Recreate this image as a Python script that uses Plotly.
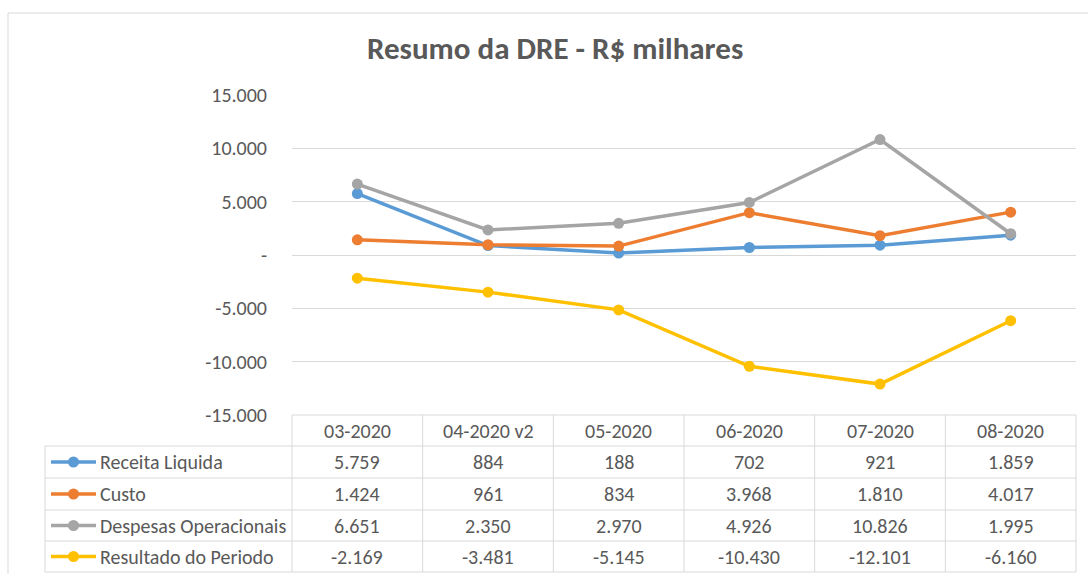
import plotly.graph_objects as go

W, H = 1088, 574

categories = ["03-2020", "04-2020 v2", "05-2020", "06-2020", "07-2020", "08-2020"]
series_names = ["Receita Liquida", "Custo", "Despesas Operacionais", "Resultado do Periodo"]
receita = [5759, 884, 188, 702, 921, 1859]
custo = [1424, 961, 834, 3968, 1810, 4017]
despesas = [6651, 2350, 2970, 4926, 10826, 1995]
resultado = [-2169, -3481, -5145, -10430, -12101, -6160]
series_values = [receita, custo, despesas, resultado]
colors = ["#5B9BD5", "#ED7D31", "#A5A5A5", "#FFC000"]
tick_vals = [15000, 10000, 5000, 0, -5000, -10000, -15000]
tick_text = ["15.000", "10.000", "5.000", "-", "-5.000", "-10.000", "-15.000"]
title_text = "Resumo da DRE - R$ milhares"

FONT = "Calibri, Carlito, Lato, sans-serif"
TXT = "#595959"
GRID = "#D9D9D9"
FS = 20

def px(x):
    return x / W

def py(y):
    return 1 - y / H

def fmt(v):
    return f"{v:,}".replace(",", ".")

# plot area in pixels
PL, PR, PT, PB = 292, 1076, 95, 415
row_lines = [415, 446, 478, 510, 541, 572]
TL = 45

fig = go.Figure()
for name, vals, c in zip(series_names, series_values, colors):
    fig.add_trace(go.Scatter(
        x=list(range(len(categories))), y=vals, name=name, mode="lines+markers",
        line=dict(color=c, width=3.5), marker=dict(color=c, size=11),
        showlegend=False, hoverinfo="skip"))

shapes = []
annotations = []
# outer chart border
shapes.append(dict(type="rect", xref="paper", yref="paper", x0=px(8), x1=px(1095), y0=py(590), y1=py(13),
                   line=dict(color=GRID, width=1), layer="below"))

ncat = len(categories)
colw = (PR - PL) / ncat
# table horizontal lines
for i, yl in enumerate(row_lines):
    x0 = PL if i == 0 else TL
    shapes.append(dict(type="line", xref="paper", yref="paper", x0=px(x0), x1=px(PR), y0=py(yl), y1=py(yl),
                       line=dict(color=GRID, width=1)))
# vertical lines
for j in range(ncat + 1):
    xl = PL + j * colw
    shapes.append(dict(type="line", xref="paper", yref="paper", x0=px(xl), x1=px(xl), y0=py(row_lines[0]), y1=py(row_lines[-1]),
                       line=dict(color=GRID, width=1)))
shapes.append(dict(type="line", xref="paper", yref="paper", x0=px(TL), x1=px(TL), y0=py(row_lines[1]), y1=py(row_lines[-1]),
                   line=dict(color=GRID, width=1)))

# header
for j, cat in enumerate(categories):
    annotations.append(dict(xref="paper", yref="paper", x=px(PL + (j + 0.5) * colw), y=py((row_lines[0] + row_lines[1]) / 2),
                            text=cat, showarrow=False, font=dict(family=FONT, size=FS, color=TXT),
                            xanchor="center", yanchor="middle"))
# rows
for i, (name, vals, c) in enumerate(zip(series_names, series_values, colors)):
    yc = (row_lines[i + 1] + row_lines[i + 2]) / 2
    shapes.append(dict(type="line", xref="paper", yref="paper", x0=px(51), x1=px(96), y0=py(yc), y1=py(yc),
                       line=dict(color=c, width=3.5)))
    shapes.append(dict(type="circle", xref="paper", yref="paper", x0=px(68), x1=px(79), y0=py(yc + 5.5), y1=py(yc - 5.5),
                       line=dict(color=c, width=0), fillcolor=c))
    annotations.append(dict(xref="paper", yref="paper", x=px(98), y=py(yc), text=name, showarrow=False,
                            font=dict(family=FONT, size=FS, color=TXT), xanchor="left", yanchor="middle"))
    for j, v in enumerate(vals):
        annotations.append(dict(xref="paper", yref="paper", x=px(PL + (j + 0.5) * colw), y=py(yc),
                                text=fmt(v), showarrow=False, font=dict(family=FONT, size=FS, color=TXT),
                                xanchor="center", yanchor="middle"))

# title
annotations.append(dict(xref="paper", yref="paper", x=px(555), y=py(48), text="<b>" + title_text + "</b>",
                        showarrow=False, font=dict(family=FONT, size=31, color=TXT), xanchor="center", yanchor="middle"))

fig.update_layout(
    width=W, height=H, margin=dict(l=0, r=0, t=0, b=0, autoexpand=False),
    paper_bgcolor="white", plot_bgcolor="white",
    xaxis=dict(domain=[px(PL), px(PR)], range=[-0.5, ncat - 0.5], showgrid=False, showticklabels=False,
               zeroline=False, showline=False, fixedrange=True, automargin=False),
    yaxis=dict(domain=[py(PB), py(PT)], range=[-15000, 15000], tickvals=tick_vals, ticktext=tick_text,
               showgrid=True, gridcolor=GRID, gridwidth=1, zeroline=False, showline=False, automargin=False,
               tickfont=dict(family=FONT, size=FS, color=TXT), ticklabelstandoff=24, fixedrange=True),
    shapes=shapes, annotations=annotations, showlegend=False,
)

fig.write_html("out.html", config={"displayModeBar": False},
               post_script="document.body.style.margin='0';document.body.style.overflow='hidden';")
